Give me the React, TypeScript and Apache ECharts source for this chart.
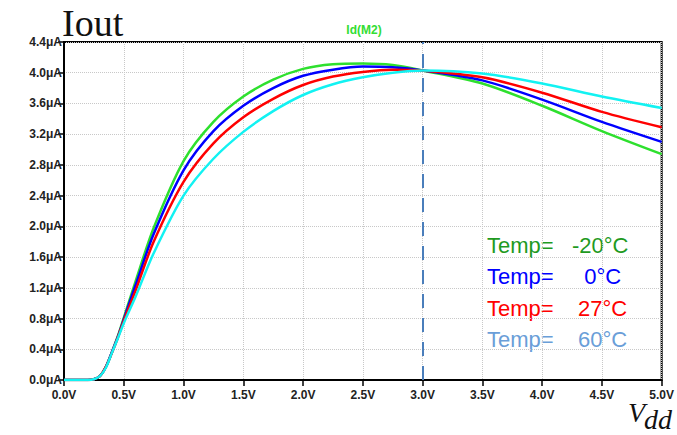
import React, { useEffect, useRef } from "react";
import * as echarts from "echarts";

const vdd = [0, 0.1, 0.2, 0.25, 0.3, 0.35, 0.4, 0.45, 0.5, 0.6, 0.75, 1.0, 1.25, 1.5, 1.75, 2.0, 2.25, 2.5, 2.75, 3.0, 3.5, 4.0, 4.5, 5.0];
const tempM20 = [0, 0, 0, 0.01, 0.05, 0.17, 0.36, 0.57, 0.81, 1.29, 1.98, 2.85, 3.36, 3.69, 3.91, 4.05, 4.11, 4.12, 4.1, 4.03, 3.86, 3.57, 3.24, 2.94];
const temp0 = [0, 0, 0, 0.01, 0.05, 0.17, 0.36, 0.56, 0.79, 1.24, 1.9, 2.73, 3.24, 3.57, 3.8, 3.96, 4.04, 4.08, 4.07, 4.03, 3.9, 3.65, 3.36, 3.1];
const temp27 = [0, 0, 0, 0.01, 0.05, 0.17, 0.35, 0.55, 0.77, 1.17, 1.8, 2.58, 3.08, 3.42, 3.66, 3.84, 3.95, 4.01, 4.04, 4.03, 3.94, 3.74, 3.49, 3.29];
const temp60 = [0, 0, 0, 0.01, 0.05, 0.16, 0.35, 0.54, 0.74, 1.09, 1.65, 2.4, 2.88, 3.23, 3.5, 3.71, 3.85, 3.94, 4.0, 4.03, 3.99, 3.86, 3.69, 3.54];

const legendLabels = ["Temp=   -20\u00B0C", "Temp=     0\u00B0C", "Temp=    27\u00B0C", "Temp=    60\u00B0C"];
const lineColors = ["#2ee02e", "#0000ff", "#ff0000", "#12f2f2"];
const legendColors = ["#1f9a1f", "#0000ff", "#ff0000", "#6a9ed8"];
const seriesValues = [tempM20, temp0, temp27, temp60];

export default function App() {
  const ref = useRef<HTMLDivElement>(null);
  useEffect(() => {
    if (!ref.current) return;
    const chart = echarts.init(ref.current, null, { renderer: "svg" });
    const font = "'Liberation Sans', Arial, sans-serif";
    const series: any[] = seriesValues.map((vals, i) => ({
      type: "line",
      name: legendLabels[i],
      data: vdd.map((x, j) => [x, vals[j]]),
      smooth: 0.3,
      showSymbol: false,
      lineStyle: { color: lineColors[i], width: 2.5 },
      itemStyle: { color: lineColors[i] },
      z: 3 + i,
    }));
    series[0].markLine = {
      silent: true,
      symbol: "none",
      label: { show: false },
      lineStyle: { color: "#4a7ebb", width: 2, type: [14, 10] },
      data: [{ xAxis: 3.0 }],
    };
    chart.setOption({
      animation: false,
      backgroundColor: "#ffffff",
      grid: { left: 64, right: 13, top: 42, bottom: 55, show: true, borderColor: "#000", borderWidth: 2 },
      xAxis: {
        type: "value",
        min: 0,
        max: 5,
        interval: 0.5,
        axisLine: { show: true, lineStyle: { color: "#000", width: 2 } },
        axisTick: { show: true, length: 6, lineStyle: { color: "#000", width: 1.5 } },
        axisLabel: {
          margin: 9,
          color: "#222",
          fontWeight: "bold",
          fontSize: 12,
          fontFamily: font,
          formatter: (v: number) => v.toFixed(1) + "V",
        },
        splitLine: { show: true, lineStyle: { color: "#c8c8c8", type: "dotted", width: 1 } },
      },
      yAxis: {
        type: "value",
        min: 0,
        max: 4.4,
        interval: 0.4,
        axisLine: { show: true, lineStyle: { color: "#000", width: 2 } },
        axisTick: { show: true, length: 6, lineStyle: { color: "#000", width: 1.5 } },
        axisLabel: {
          margin: 2,
          color: "#222",
          fontWeight: "bold",
          fontSize: 12,
          fontFamily: font,
          formatter: (v: number) => v.toFixed(1) + "\u03BCA",
        },
        splitLine: { show: true, lineStyle: { color: "#c8c8c8", type: "dotted", width: 1 } },
      },
      series,
      graphic: [
        {
          type: "text",
          left: 62,
          top: 4,
          style: { text: "Iout", font: "38px 'Liberation Serif', 'DejaVu Serif', serif", fill: "#111" },
        },
        {
          type: "text",
          x: 364,
          y: 30,
          style: { text: "Id(M2)", font: "bold 12px 'Liberation Sans', Arial, sans-serif", fill: "#33dd33", textAlign: "center", textVerticalAlign: "middle" },
        },
        ...legendLabels.map((t, i) => ({
          type: "text",
          x: 487,
          y: [245, 276, 308, 339][i],
          style: { text: t, font: "22px 'Liberation Sans', Arial, sans-serif", fill: legendColors[i], textVerticalAlign: "middle" },
        })),
        {
          type: "text",
          x: 628,
          y: 426,
          style: { text: "V", font: "italic 28px 'Liberation Serif', 'DejaVu Serif', serif", fill: "#111", textVerticalAlign: "bottom" },
        },
        {
          type: "text",
          x: 644,
          y: 433,
          style: { text: "dd", font: "italic 28px 'Liberation Serif', 'DejaVu Serif', serif", fill: "#111", textVerticalAlign: "bottom" },
        },
      ],
    });
    return () => chart.dispose();
  }, []);
  return (
    <div
      ref={ref}
      style={{ position: "fixed", left: 0, top: 0, width: 677, height: 435, background: "#fff" }}
    />
  );
}
